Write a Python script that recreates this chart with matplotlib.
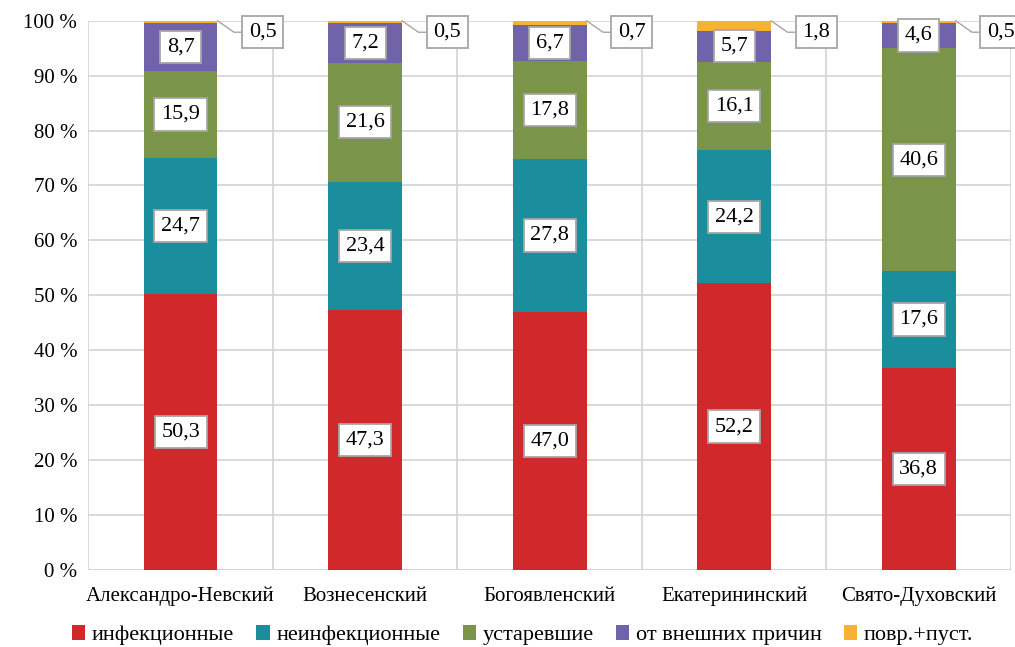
import matplotlib

matplotlib.use("Agg")
import matplotlib.pyplot as plt
import numpy as np

plt.rcParams["font.family"] = ["Liberation Serif", "DejaVu Serif"]

churches = ["Александро-Невский", "Вознесенский", "Богоявленский",
            "Екатерининский", "Свято-Духовский"]
series_names = ["инфекционные", "неинфекционные", "устаревшие",
                "от внешних причин", "повр.+пуст."]
infectious = [50.3, 47.3, 47.0, 52.2, 36.8]
noninfectious = [24.7, 23.4, 27.8, 24.2, 17.6]
outdated = [15.9, 21.6, 17.8, 16.1, 40.6]
external = [8.7, 7.2, 6.7, 5.7, 4.6]
damaged = [0.5, 0.5, 0.7, 1.8, 0.5]
colors = ["#d1282b", "#1b8e9d", "#7a9549", "#7163a9", "#f8b232"]

values = [infectious, noninfectious, outdated, external, damaged]

fig = plt.figure(figsize=(10.15, 6.47), dpi=100)
ax = fig.add_axes([0.087, 0.119, 0.909, 0.849])

x = np.arange(len(churches))
bottom = np.zeros(len(churches))
box = dict(boxstyle="square,pad=0.3", fc="white", ec="#a6a6a6", lw=1.3)
for k, (vals, col, name) in enumerate(zip(values, colors, series_names)):
    vals = np.array(vals)
    ax.bar(x, vals, 0.4, bottom=bottom, color=col, label=name, zorder=3)
    for i, v in enumerate(vals):
        if k < 4:
            ax.text(x[i], bottom[i] + v / 2, f"{v:.1f}".replace(".", ","),
                    ha="center", va="center", fontsize=16, bbox=box, zorder=5)
        else:
            top = min(bottom[i] + v, 100)
            ax.annotate(f"{v:.1f}".replace(".", ","), xy=(x[i] + 0.2, top),
                        xytext=(x[i] + 0.445, 97.9), ha="center", va="center",
                        fontsize=16, bbox=box, zorder=5, annotation_clip=False,
                        arrowprops=dict(arrowstyle="-", color="#a6a6a6", lw=1,
                                        shrinkA=0, shrinkB=0,
                                        connectionstyle="angle,angleA=0,angleB=-35,rad=0"))
    bottom = bottom + vals

ax.set_xlim(-0.5, len(churches) - 0.5)
ax.set_ylim(0, 100)
ax.set_yticks(np.arange(0, 101, 10))
ax.set_yticklabels([f"{t} %" for t in range(0, 101, 10)], fontsize=15)
ax.set_xticks(x)
ax.set_xticklabels(churches, fontsize=15)
ax.tick_params(length=0, pad=8)
ax.tick_params(axis="x", pad=12)
ax.set_xticks(np.arange(-0.5, len(churches), 1), minor=True)
ax.tick_params(which="minor", length=0)
ax.grid(axis="y", color="#d0d4d8", lw=1.2, zorder=0)
ax.grid(axis="x", which="minor", color="#d0d4d8", lw=1.2, zorder=0)
ax.grid(axis="x", which="major", visible=False)
for s in ax.spines.values():
    s.set_visible(False)
ax.axhline(0, color="#d0d4d8", lw=1.2, zorder=1)

fig.legend(loc="lower center", ncol=5, frameon=False, fontsize=16,
           handlelength=0.6, handleheight=0.7, handletextpad=0.3,
           columnspacing=1.0, bbox_to_anchor=(0.515, -0.028))

fig.savefig("out.png", dpi=100)
